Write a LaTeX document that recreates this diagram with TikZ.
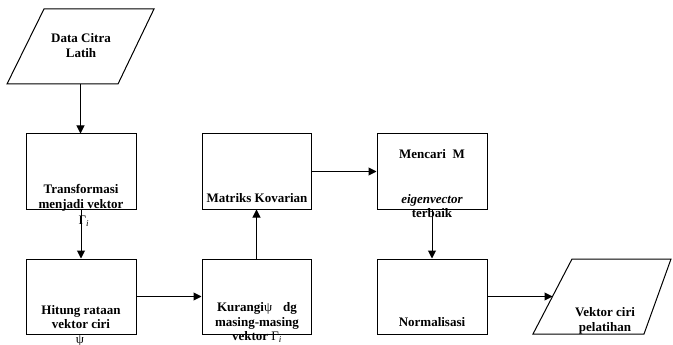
\documentclass[tikz,border=0pt]{standalone}
\usepackage{fontspec}
\setmainfont{Liberation Serif}
\usetikzlibrary{arrows.meta}
\newcommand{\gami}{\textmd{Γ\textsubscript{\textit{i}}}}
\newcommand{\psisym}{\textmd{ψ}}
\begin{document}
\begin{tikzpicture}[x=1pt,y=-1pt,
  box/.style={draw,line width=1pt,rectangle,minimum width=110pt,minimum height=75pt,inner sep=0pt},
  para/.style={draw,line width=1pt,line join=miter},
  lbl/.style={font=\fontsize{13}{14.5}\selectfont\bfseries,align=center,inner sep=0pt},
  sym/.style={font=\fontsize{13}{14}\selectfont,inner sep=0pt},
  arr/.style={line width=1pt,-{Triangle[length=8pt,width=8pt]}}]
\useasboundingbox (0,0) rectangle (673,345);
% input / output parallelograms
\draw[para] (44,9) -- (154,9) -- (118,84) -- (7,84) -- cycle;
\coordinate (inS) at (80.5,84);
\draw[para] (572,259) -- (671,259) -- (644,334) -- (533,334) -- cycle;
\coordinate (outW) at (552.5,296.5);
% boxes
\node[box] (b1) at (81,171.5) {};
\node[box] (b2) at (81,296.5) {};
\node[box,minimum width=109pt] (b3) at (256.5,296.5) {};
\node[box,minimum width=109pt] (b4) at (256.5,171.5) {};
\node[box] (b5) at (432,171.5) {};
\node[box] (b6) at (432,296.5) {};
% texts
\node[lbl] (tin) at (81,45.5) {Data Citra\\Latih};
\node[lbl] (t1) at (81,198) {Transformasi\\menjadi vektor};
\node[sym] (g1) at (84,221) {\gami};
\node[lbl] (t2) at (81,317) {Hitung rataan\\vektor ciri};
\node[sym] (s2) at (80,340.5) {\psisym};
\node[lbl] (t3) at (257,322.5) {Kurangi\psisym\hspace{0.6em} dg\\masing-masing\\vektor \gami};
\node[lbl] (t4) at (257,198) {Matriks Kovarian};
\node[lbl] (t5a) at (432,154) {Mencari\ \ M};
\node[lbl] (t5b) at (432,206) {\textit{eigenvector}\\terbaik};
\node[lbl] (t6) at (432,322) {Normalisasi};
\node[lbl] (tout) at (605,321) {Vektor ciri\\pelatihan};
% connectors
\draw[arr] (inS) -- (inS |- b1.north);
\draw[arr] (b1.south) -- (b2.north);
\draw[arr] (b2.east) -- (b3.west);
\draw[arr] (b3.north) -- (b4.south);
\draw[arr] (b4.east) -- (b5.west);
\draw[arr] (b5.south) -- (b6.north);
\draw[arr] (b6.east) -- (outW);
\end{tikzpicture}
\end{document}
